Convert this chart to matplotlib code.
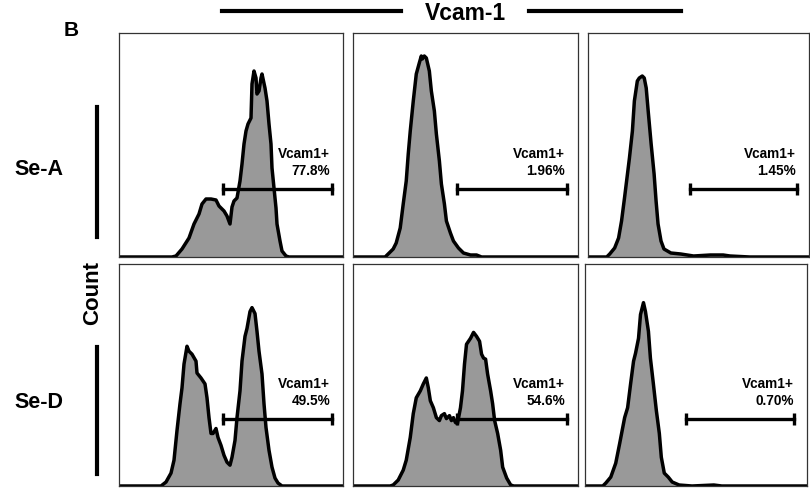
import numpy as np
import matplotlib.pyplot as plt
from matplotlib.lines import Line2D

plt.rcParams['font.family'] = ['Liberation Sans', 'DejaVu Sans']
plt.rcParams['font.weight'] = 'bold'

# histogram traces, x = channel, y = count
a1_x = [0, 53, 57, 63, 70, 75, 80, 83, 87, 92, 97, 100, 105, 108, 111, 113, 115, 118, 121, 123, 125, 127, 129, 132,
        133, 135, 137, 138, 140, 142, 143, 146, 148, 150, 152, 153, 155, 157, 158, 161, 163, 167, 170, 224]
a1_y = [0, 0, 1, 8, 19, 33, 43, 53, 58, 58, 57, 51, 46, 41, 33, 50, 56, 59, 76, 93, 113, 126, 133, 139,
        173, 186, 179, 163, 166, 179, 183, 169, 156, 133, 113, 89, 69, 49, 33, 16, 6, 1, 0, 0]

a2_x = [0, 32, 35, 40, 43, 47, 50, 53, 55, 57, 60, 63, 66, 68, 69, 71, 73, 76, 78, 81, 83, 86, 88, 91, 93, 97,
        100, 105, 110, 117, 123, 128, 224]
a2_y = [0, 0, 3, 8, 14, 29, 53, 76, 103, 126, 156, 183, 194, 201, 198, 201, 199, 186, 166, 146, 123, 96, 73, 53,
        36, 24, 16, 9, 4, 2, 2, 0, 0]

a3_x = [0, 19, 22, 27, 31, 34, 37, 40, 42, 45, 47, 50, 52, 55, 57, 59, 61, 64, 67, 69, 71, 74, 77, 84, 94, 107,
        124, 137, 144, 164, 224]
a3_y = [0, 0, 3, 9, 19, 36, 59, 83, 99, 126, 156, 176, 179, 181, 179, 169, 146, 113, 83, 56, 33, 16, 8, 4, 3, 1,
        2, 2, 1, 0, 0]

d1_x = [0, 42, 47, 52, 55, 58, 61, 63, 65, 68, 70, 73, 77, 78, 82, 86, 88, 90, 92, 94, 97, 99, 102, 105, 108,
        111, 113, 116, 118, 121, 123, 126, 128, 131, 133, 136, 138, 140, 143, 145, 147, 150, 153, 156, 159, 163, 224]
d1_y = [0, 0, 4, 13, 26, 56, 83, 99, 123, 141, 136, 133, 126, 114, 109, 103, 89, 69, 53, 53, 58, 49, 41, 31, 24,
        21, 29, 46, 69, 96, 126, 151, 159, 176, 180, 174, 156, 136, 113, 83, 59, 36, 19, 8, 3, 0, 0]

d2_x = [0, 37, 40, 45, 50, 53, 57, 60, 63, 67, 70, 73, 75, 77, 80, 83, 86, 88, 91, 93, 96, 98, 100, 102, 104,
        107, 109, 111, 113, 117, 120, 123, 126, 128, 130, 132, 134, 137, 139, 141, 144, 147, 149, 153, 157, 160, 224]
d2_y = [0, 0, 1, 6, 16, 26, 49, 73, 89, 96, 103, 109, 99, 86, 79, 69, 66, 71, 73, 68, 71, 66, 69, 64, 63,
        79, 96, 123, 143, 149, 155, 151, 146, 133, 129, 128, 113, 96, 83, 66, 53, 36, 19, 8, 1, 0, 0]

d3_x = [0, 18, 21, 26, 31, 35, 40, 43, 46, 49, 51, 54, 56, 59, 61, 64, 66, 69, 72, 75, 77, 80, 84, 88, 95, 108,
        130, 138, 224]
d3_y = [0, 0, 3, 9, 23, 43, 69, 79, 103, 126, 134, 149, 173, 185, 176, 156, 129, 103, 76, 53, 29, 13, 9, 4, 1, 0,
        1, 0, 0]

hist_x = [a1_x, a2_x, a3_x, d1_x, d2_x, d3_x]
hist_y = [a1_y, a2_y, a3_y, d1_y, d2_y, d3_y]
gate_lo = [104, 104, 103, 104, 104, 102]
gate_hi = [213, 213, 212, 213, 213, 211]
pct = ['77.8%', '1.96%', '1.45%', '49.5%', '54.6%', '0.70%']
rows = ['Se-A', 'Se-D']

W, H = 810, 489
fig = plt.figure(figsize=(W / 100, H / 100), dpi=100)

# panel boxes in pixels: left, top, right, bottom
boxes = [(119, 34, 343, 258), (353, 34, 578, 258), (588, 34, 809, 258),
         (119, 265, 343, 487), (353, 265, 578, 487), (585, 265, 807, 487)]

for i, (l, t, r, b) in enumerate(boxes):
    ax = fig.add_axes([l / W, 1 - b / H, (r - l) / W, (b - t) / H])
    ax.fill_between(hist_x[i], hist_y[i], 0, color='#999999', lw=0)
    ax.plot(hist_x[i], hist_y[i], color='black', lw=2.5, solid_joinstyle='round')
    ax.plot([gate_lo[i], gate_hi[i]], [68, 68], color='black', lw=2.4)
    ax.plot([gate_lo[i], gate_hi[i]], [68, 68], ls='none', marker='|', ms=8, mew=2.4, color='black')
    ax.text(211, 104, 'Vcam1+', ha='right', va='center', fontsize=9.8, fontweight='bold')
    ax.text(211, 87, pct[i], ha='right', va='center', fontsize=9.8, fontweight='bold')
    ax.set_xlim(0, 224)
    ax.set_ylim(0, 224)
    ax.set_xticks([])
    ax.set_yticks([])
    for s in ax.spines.values():
        s.set_color('#333333')
        s.set_linewidth(0.9)


def fx(x):
    return x / W


def fy(y):
    return 1 - y / H


fig.text(fx(465), fy(14), 'Vcam-1', ha='center', va='center', fontsize=16.5, fontweight='bold')
fig.add_artist(Line2D([fx(222), fx(401)], [fy(12), fy(12)], color='black', lw=3))
fig.add_artist(Line2D([fx(529), fx(681)], [fy(12), fy(12)], color='black', lw=3))

fig.text(fx(71), fy(31), 'B', ha='center', va='center', fontsize=15, fontweight='bold')
fig.text(fx(39), fy(170), rows[0], ha='center', va='center', fontsize=15.5, fontweight='bold')
fig.text(fx(39), fy(402), rows[1], ha='center', va='center', fontsize=15.5, fontweight='bold')
fig.text(fx(93), fy(293), 'Count', ha='center', va='center', rotation=90, fontsize=16, fontweight='bold')
fig.add_artist(Line2D([fx(97), fx(97)], [fy(108), fy(238)], color='black', lw=3))
fig.add_artist(Line2D([fx(97), fx(97)], [fy(348), fy(475)], color='black', lw=3))

fig.savefig('out.png', dpi=100)
